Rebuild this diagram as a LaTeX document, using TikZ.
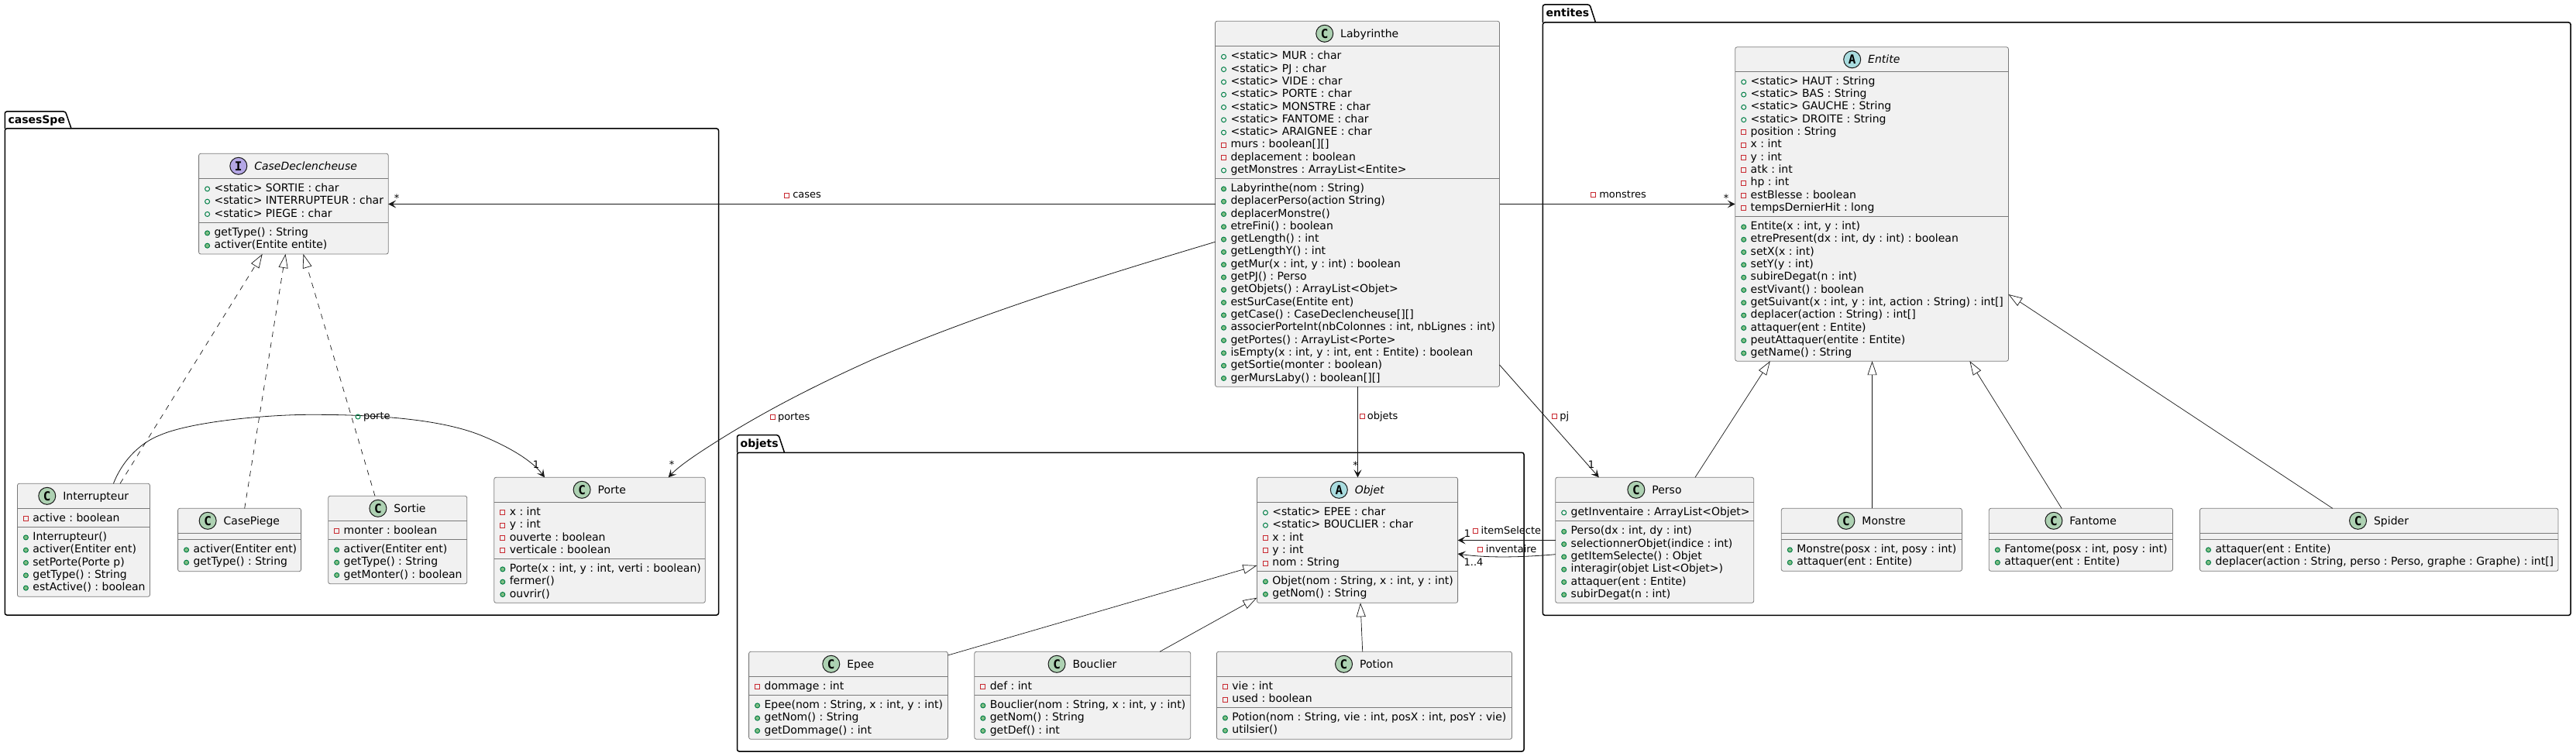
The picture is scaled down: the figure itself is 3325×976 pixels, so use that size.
\documentclass[tikz,border=0pt]{standalone}
\usepackage{fontspec}
\setmainfont{DejaVu Sans}
\setmonofont{DejaVu Sans Mono}
\usetikzlibrary{arrows.meta,calc}
\definecolor{ink}{HTML}{181818}
\definecolor{rule}{HTML}{7A7A7A}
\definecolor{boxfill}{HTML}{F1F1F1}
\definecolor{spotC}{HTML}{ADD1B2}
\definecolor{spotA}{HTML}{A9DCDF}
\definecolor{spotI}{HTML}{B4A7E5}
\definecolor{publine}{HTML}{038048}
\definecolor{pubfill}{HTML}{84BE84}
\definecolor{privline}{HTML}{C82930}
\newcommand\fsz[1]{\fontsize{#1}{#1}\selectfont\frenchspacing}
\tikzset{
  classbox/.style={draw=rule,line width=0.8pt,fill=boxfill,rounded corners=2.5pt,inner sep=0pt,outer sep=0pt,anchor=north west},
  sepline/.style={draw=rule,line width=0.8pt},
  membertext/.style={anchor=base west,inner sep=0pt,outer sep=0pt,font=\fsz{14}},
  linktext/.style={anchor=base west,inner sep=0pt,outer sep=0pt,font=\fsz{13}},
  multtext/.style={anchor=base,inner sep=0pt,outer sep=0pt,font=\fsz{13}},
  titletext/.style={anchor=base,inner sep=0pt,outer sep=0pt},
  spotnode/.style={circle,draw=ink,line width=1pt,minimum size=22pt,inner sep=0pt,outer sep=0pt,font=\ttfamily\bfseries\fsz{16}},
  pubfield/.style={draw=publine,line width=1pt},
  pubmethod/.style={draw=publine,fill=pubfill,line width=1pt},
  privfield/.style={draw=privline,line width=1pt},
  pkgline/.style={draw=black,line width=1.5pt,rounded corners=2.5pt},
  pkgtext/.style={anchor=base west,inner sep=0pt,outer sep=0pt,font=\bfseries\fsz{14}},
  assoc/.style={draw=ink,line width=0.8pt,-{Stealth[length=10pt,width=10pt,inset=4.5pt]}},
  gen/.style={draw=ink,line width=0.7pt,-{Triangle[length=18pt,width=12pt,fill=white]}},
  realiz/.style={gen,dash pattern=on 7pt off 7pt},
}
\newcounter{mcount}
\newcommand\titlefontC{}
\newcommand\titlefontA{\itshape}
\newcommand\titlefontI{\itshape}
% id, x1, y1, x2, y2, sep1, sep2, type, title
\newcommand\umlclass[9]{%
  \def\cid{#1}\def\cxl{#2}\def\cy{#6}\def\secB{#7}%
  \setcounter{mcount}{0}%
  \pgfmathsetmacro\boxw{#4-#2}\pgfmathsetmacro\boxh{#5-#3}%
  \node[classbox,minimum width=\boxw pt,minimum height=\boxh pt] (#1) at (#2,#3) {};
  \draw[sepline] (#1.west |- 0,#6) -- (#1.east |- 0,#6);
  \draw[sepline] (#1.west |- 0,#7) -- (#1.east |- 0,#7);
  \pgfmathsetmacro\spy{#3+16}\pgfmathsetmacro\ttx{(#2+#4)/2+15.75}\pgfmathsetmacro\tty{#3+21}%
  \node[titletext,font=\fsz{14}\csname titlefont#8\endcsname] (#1-title) at (\ttx,\tty) {#9};
  \node[spotnode,fill=spot#8] (#1-spot) at ([xshift=-20.5pt]#1-title.base west |- 0,\spy) {#8};
}
\newcommand\memberline[2]{%
  \stepcounter{mcount}%
  \pgfmathsetmacro\by{\cy+17.2}\pgfmathsetmacro\iy{\cy+13.6}%
  \pgfmathsetmacro\ix{\cxl+11}\pgfmathsetmacro\tx{\cxl+20}%
  #1%
  \node[membertext] (\cid-\arabic{mcount}) at (\tx,\by) {#2};
  \pgfmathsetmacro\cy{\cy+16.3}%
}
\newcommand\iconpub[2]{\draw[pubfield] (#1,#2) circle[radius=3pt];}
\newcommand\iconmet[2]{\draw[pubmethod] (#1,#2) circle[radius=3pt];}
\newcommand\iconpriv[2]{\draw[privfield,shift={(#1,#2)}] (-3,-3) rectangle (3,3);}
\newcommand\mf[1]{\memberline{\iconpub{\ix}{\iy}}{#1}}
\newcommand\pf[1]{\memberline{\iconpriv{\ix}{\iy}}{#1}}
\newcommand\mm[1]{\memberline{\iconmet{\ix}{\iy}}{#1}}
\newcommand\tomethods{\let\cy\secB}
% id, x1, top, tabline, tabright, x2, y2, name
\newcommand\umlpkg[8]{%
  \pgfmathsetmacro\tabs{#5-7.5}\pgfmathsetmacro\nmx{#2+4.2}\pgfmathsetmacro\nmy{#3+16}%
  \draw[pkgline] (#2,#4) -- (#2,#3) -- (\tabs,#3) -- (#5,#4);
  \draw[pkgline] (#2,#4) rectangle (#6,#7);
  \node[pkgtext] (#1) at (\nmx,\nmy) {#8};
}
% id, icon cmd, icon x, icon y, text x, baseline, text
\newcommand\linklabel[7]{%
  #2{#3}{#4}%
  \node[linktext] (#1) at (#5,#6) {#7};
}
\begin{document}
\begin{tikzpicture}[x=1pt,y=-1pt]
\useasboundingbox (0,0) rectangle (3325,976);

\umlpkg{pkgCases}{6.3}{144}{166}{92}{927.5}{794}{casesSpe}
\umlpkg{pkgObjets}{951.5}{561.7}{584.3}{1012.5}{1967}{970}{objets}
\umlpkg{pkgEntites}{1991.4}{6}{29}{2059.5}{3318}{794.3}{entites}

\umlclass{lab}{1568.5}{27.3}{1935.5}{499.3}{59.7}{230.3}{C}{Labyrinthe}
\mf{<static> MUR : char}
\mf{<static> PJ : char}
\mf{<static> VIDE : char}
\mf{<static> PORTE : char}
\mf{<static> MONSTRE : char}
\mf{<static> FANTOME : char}
\mf{<static> ARAIGNEE : char}
\pf{murs : boolean[][]}
\pf{deplacement : boolean}
\mf{getMonstres : ArrayList<Entite>}
\tomethods
\mm{Labyrinthe(nom : String)}
\mm{deplacerPerso(action String)}
\mm{deplacerMonstre()}
\mm{etreFini() : boolean}
\mm{getLength() : int}
\mm{getLengthY() : int}
\mm{getMur(x : int, y : int) : boolean}
\mm{getPJ() : Perso}
\mm{getObjets() : ArrayList<Objet>}
\mm{estSurCase(Entite ent)}
\mm{getCase() : CaseDeclencheuse[][]}
\mm{associerPorteInt(nbColonnes : int, nbLignes : int)}
\mm{getPortes() : ArrayList<Porte>}
\mm{isEmpty(x : int, y : int, ent : Entite) : boolean}
\mm{getSortie(monter : boolean)}
\mm{gerMursLaby() : boolean[][]}

\umlclass{cased}{256.6}{198.3}{501.2}{328}{230.3}{287.3}{I}{CaseDeclencheuse}
\mf{<static> SORTIE : char}
\mf{<static> INTERRUPTEUR : char}
\mf{<static> PIEGE : char}
\tomethods
\mm{getType() : String}
\mm{activer(Entite entite)}

\umlclass{inter}{22.4}{624.3}{193.5}{770.3}{656.3}{680.3}{C}{Interrupteur}
\pf{active : boolean}
\tomethods
\mm{Interrupteur()}
\mm{activer(Entiter ent)}
\mm{setPorte(Porte p)}
\mm{getType() : String}
\mm{estActive() : boolean}

\umlclass{piege}{229.6}{656.3}{388.6}{737.7}{688.3}{696.3}{C}{CasePiege}
\tomethods
\mm{activer(Entiter ent)}
\mm{getType() : String}

\umlclass{sortie}{423.7}{640.3}{602.8}{753.7}{672.3}{696.3}{C}{Sortie}
\pf{monter : boolean}
\tomethods
\mm{activer(Entiter ent)}
\mm{getType() : String}
\mm{getMonter() : boolean}

\umlclass{porte}{637.8}{616.3}{910.3}{778.3}{648.3}{721.3}{C}{Porte}
\pf{x : int}
\pf{y : int}
\pf{ouverte : boolean}
\pf{verticale : boolean}
\tomethods
\mm{Porte(x : int, y : int, verti : boolean)}
\mm{fermer()}
\mm{ouvrir()}

\umlclass{objet}{1622.4}{616.3}{1881.6}{778.3}{648.3}{737.3}{A}{Objet}
\mf{<static> EPEE : char}
\mf{<static> BOUCLIER : char}
\pf{x : int}
\pf{y : int}
\pf{nom : String}
\tomethods
\mm{Objet(nom : String, x : int, y : int)}
\mm{getNom() : String}

\umlclass{epee}{966.6}{841.3}{1223.4}{954.3}{873.3}{897.3}{C}{Epee}
\pf{dommage : int}
\tomethods
\mm{Epee(nom : String, x : int, y : int)}
\mm{getNom() : String}
\mm{getDommage() : int}

\umlclass{bouclier}{1257.8}{841.3}{1536.7}{954.3}{873.3}{897.3}{C}{Bouclier}
\pf{def : int}
\tomethods
\mm{Bouclier(nom : String, x : int, y : int)}
\mm{getNom() : String}
\mm{getDef() : int}

\umlclass{potion}{1570.4}{841.3}{1951.5}{954.3}{873.3}{913.3}{C}{Potion}
\pf{vie : int}
\pf{used : boolean}
\tomethods
\mm{Potion(nom : String, vie : int, posX : int, posY : vie)}
\mm{utilsier()}

\umlclass{entite}{2239.7}{60.8}{2592.4}{466.2}{92.2}{279.4}{A}{Entite}
\mf{<static> HAUT : String}
\mf{<static> BAS : String}
\mf{<static> GAUCHE : String}
\mf{<static> DROITE : String}
\pf{position : String}
\pf{x : int}
\pf{y : int}
\pf{atk : int}
\pf{hp : int}
\pf{estBlesse : boolean}
\pf{tempsDernierHit : long}
\tomethods
\mm{Entite(x : int, y : int)}
\mm{etrePresent(dx : int, dy : int) : boolean}
\mm{setX(x : int)}
\mm{setY(y : int)}
\mm{subireDegat(n : int)}
\mm{estVivant() : boolean}
\mm{getSuivant(x : int, y : int, action : String) : int[]}
\mm{deplacer(action : String) : int[]}
\mm{attaquer(ent : Entite)}
\mm{peutAttaquer(entite : Entite)}
\mm{getName() : String}

\umlclass{perso}{2007.7}{616.3}{2263.7}{778.3}{648.3}{672.7}{C}{Perso}
\mf{getInventaire : ArrayList<Objet>}
\tomethods
\mm{Perso(dx : int, dy : int)}
\mm{selectionnerObjet(indice : int)}
\mm{getItemSelecte() : Objet}
\mm{interagir(objet List<Objet>)}
\mm{attaquer(ent : Entite)}
\mm{subirDegat(n : int)}

\umlclass{monstre}{2299.3}{656.3}{2532.4}{737.3}{688.3}{696.3}{C}{Monstre}
\tomethods
\mm{Monstre(posx : int, posy : int)}
\mm{attaquer(ent : Entite)}

\umlclass{fantome}{2567.3}{656.3}{2804.5}{737.3}{688.3}{696.3}{C}{Fantome}
\tomethods
\mm{Fantome(posx : int, posy : int)}
\mm{attaquer(ent : Entite)}

\umlclass{spider}{2839.5}{656.3}{3302}{737.3}{688.3}{696.3}{C}{Spider}
\tomethods
\mm{attaquer(ent : Entite)}
\mm{deplacer(action : String, perso : Perso, graphe : Graphe) : int[]}

% associations
\draw[assoc] (lab.west |- 0,263.5) -- (cased.east |- 0,263.5);
\draw[assoc] (lab.east |- 0,263.5) -- (entite.west |- 0,263.5);
\draw[assoc] (lab.south -| 1752.5,0) -- (objet.north -| 1752.5,0);
\draw[assoc] (lab.east |- 0,471) -- (perso.north -| 2063.8,0);
\draw[assoc] (lab.west |- 0,312.3) .. controls (1421.5,356.3) and (1276,401) .. (1129,463)
  .. controls (1062,493) and (994.7,526.3) .. (927.7,568.3)
  .. controls (906,582) and (878,600) .. (porte.north -| 862.7,0);
\draw[assoc] (perso.west |- 0,697.5) -- (objet.east |- 0,697.5);
\draw[assoc] (perso.west |- 0,715.7) .. controls (1965,719.5) and (1920,720.5) .. (objet.east |- 0,715);
\draw[assoc] (inter.north -| 146.4,0) .. controls (160,590) and (185,570) .. (206.7,561.7)
  .. controls (245,545) and (340,535.3) .. (402,535.3)
  .. controls (480,535.3) and (565,540) .. (620,561.7)
  .. controls (660,578) and (688,596) .. (porte.north -| 703,0);

% inheritance
\draw[gen] (perso.north -| 2188,0) -- (entite.south -| 2284.8,0);
\draw[gen] (monstre.north -| 2416.5,0) -- (entite.south -| 2416.5,0);
\draw[gen] (fantome.north -| 2661,0) -- (entite.south -| 2542.4,0);
\draw[gen] (spider.north -| 3010.8,0) -- (entite.east |- 0,380);
\draw[gen] (epee.east |- 0,846) -- (objet.west |- 0,730);
\draw[gen] (bouclier.north -| 1497,0) -- (objet.west |- 0,771.7);
\draw[gen] (potion.north -| 1758.7,0) -- (objet.south -| 1756,0);
\draw[realiz] (inter.north -| 155,0) -- (cased.south -| 338.7,0);
\draw[realiz] (piege.north -| 315.7,0) -- (cased.south -| 368.5,0);
\draw[realiz] (sortie.north -| 484,0) -- (cased.south -| 391.5,0);

% link labels
\linklabel{lblCases}{\iconpriv}{1015.3}{252.3}{1023.3}{256}{cases}
\linklabel{lblMonstres}{\iconpriv}{2056}{251.7}{2064.3}{255.4}{monstres}
\linklabel{lblPortes}{\iconpriv}{997}{538.3}{1004}{542}{portes}
\linklabel{lblObjets}{\iconpriv}{1758}{537.7}{1764.8}{541.5}{objets}
\linklabel{lblPj}{\iconpriv}{2006.6}{537.7}{2013.3}{541.5}{pj}
\linklabel{lblItem}{\iconpriv}{1904.6}{685.7}{1911.7}{689.5}{itemSelecte}
\linklabel{lblInv}{\iconpriv}{1910}{709}{1917.9}{713}{inventaire}
\linklabel{lblPorte}{\iconpub}{462}{538}{469}{541.7}{porte}

% multiplicities
\node[multtext] (mCases) at (512,260.8) {*};
\node[multtext] (mMonstres) at (2228,260.2) {*};
\node[multtext] (mPortes) at (867,604.8) {*};
\node[multtext] (mObjets) at (1749.5,605.8) {*};
\node[multtext] (mPj) at (2054,604.7) {1};
\node[multtext] (mPorte) at (692,604.7) {1};
\node[multtext] (mItem) at (1894,693.7) {1};
\node[multtext] (mInv) at (1902,730) {1..4};
\end{tikzpicture}
\end{document}
